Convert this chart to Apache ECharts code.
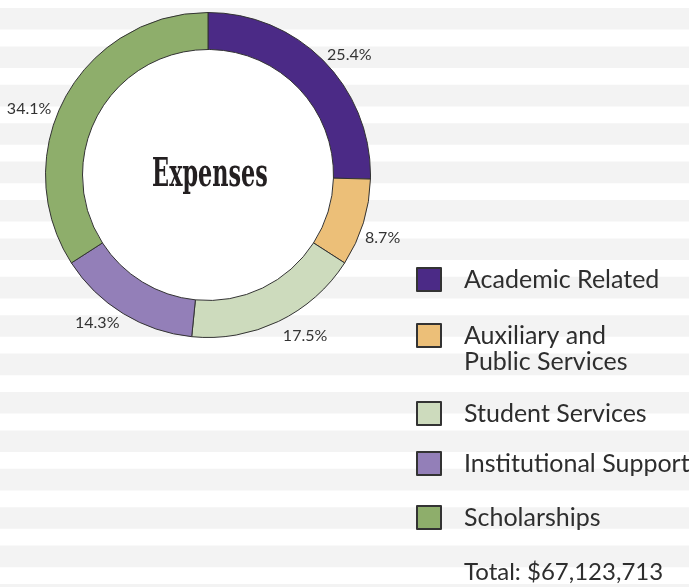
<!DOCTYPE html>
<html>
<head>
<meta charset="utf-8">
<script src="https://cdn.jsdelivr.net/npm/echarts@6/dist/echarts.min.js"></script>
<style>
  html, body { margin: 0; padding: 0; background: #fff; }
  #chart { width: 689px; height: 587px; }
</style>
</head>
<body>
<div id="chart"></div>
<script>
const categories = ["Academic Related", "Auxiliary and\nPublic Services", "Student Services", "Institutional Support", "Scholarships"];
const shares = [25.4, 8.7, 17.5, 14.3, 34.1];
const colors = ["#4b2a86", "#ecbf78", "#cddbbd", "#937fb8", "#8eae6b"];
const totalLabel = "Total: $67,123,713";

// layout tweaks (not data)
const legendTops = [266.5, 296.5, 400.5, 450.5, 504.5];
const labelNudges = [[6, 12], [-6, 7], [15, -9.5], [-12, -13], [-13, 24]];

const chart = echarts.init(document.getElementById("chart"));

const cx = 208, cy = 175;

// background stripes + white hole
const deco = [];
for (let i = 0; i < 16; i++) {
  deco.push({
    type: "rect",
    shape: { x: 0, y: 8 + i * 38.4, width: 689, height: 21.6 },
    style: { fill: "#f3f3f3" },
    silent: true
  });
}
deco.push({
  type: "circle",
  shape: { cx: cx, cy: cy, r: 126 },
  style: { fill: "#fff" },
  silent: true
});
deco.push({
  type: "text",
  x: 210,
  y: 176,
  scaleX: 0.92,
  scaleY: 1.42,
  silent: true,
  style: {
    text: "Expenses",
    fontFamily: "DejaVu Serif Condensed",
    fontWeight: "bold",
    fontSize: 27,
    fill: "#231f20",
    align: "center",
    verticalAlign: "middle"
  }
});

const pieData = categories.map((name, i) => ({
  name: name,
  value: shares[i],
  itemStyle: { color: colors[i] }
}));

const labelData = categories.map((name, i) => ({
  name: name,
  value: shares[i],
  label: { offset: labelNudges[i] }
}));

const legends = categories.map((name, i) => ({
  data: [name],
  left: 416,
  top: legendTops[i],
  padding: 0,
  orient: "vertical",
  icon: "rect",
  itemWidth: 24,
  itemHeight: 23,
  selectedMode: false,
  formatter: (n) => (n.includes("\n") ? "\n" + n : n),
  textStyle: {
    fontFamily: "Lato",
    fontSize: 25,
    color: "#2e2e2e",
    lineHeight: 26,
    padding: [0, 0, 0, 18]
  }
}));

chart.setOption({
  animation: false,
  graphic: deco,
  title: {
    text: totalLabel,
    left: 464,
    top: 560,
    padding: 0,
    textStyle: {
      fontFamily: "Lato",
      fontSize: 24,
      fontWeight: "normal",
      color: "#2e2e2e"
    }
  },
  legend: legends,
  series: [
    {
      type: "pie",
      center: [cx, cy],
      radius: [125.5, 162.5],
      startAngle: 90,
      clockwise: true,
      silent: true,
      label: { show: false },
      labelLine: { show: false },
      itemStyle: { borderColor: "#333", borderWidth: 1 },
      data: pieData
    },
    {
      type: "pie",
      center: [cx, cy],
      radius: [172, 200],
      startAngle: 90,
      clockwise: true,
      silent: true,
      itemStyle: { color: "transparent" },
      label: {
        show: true,
        position: "inside",
        formatter: (p) => p.value.toFixed(1) + "%",
        fontFamily: "Lato",
        fontSize: 16,
        color: "#333"
      },
      labelLine: { show: false },
      data: labelData
    }
  ]
});
</script>
</body>
</html>
